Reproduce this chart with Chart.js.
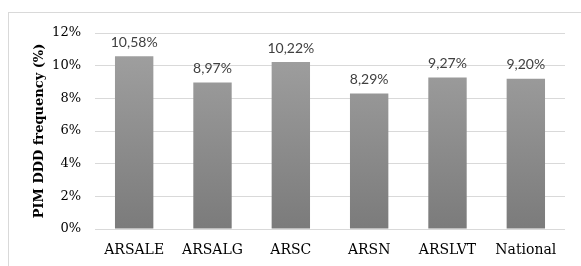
<!DOCTYPE html>
<html>
<head>
<meta charset="utf-8">
<script src="https://cdn.jsdelivr.net/npm/chart.js@4/dist/chart.umd.min.js"></script>
<style>
  html, body { margin: 0; padding: 0; background: #fff; }
  #wrap { width: 581px; height: 266px; position: relative; }
</style>
</head>
<body>
<div id="wrap"><canvas id="chart" width="581" height="266"></canvas></div>
<script>
// values (percent)
const categories = ['ARSALE', 'ARSALG', 'ARSC', 'ARSN', 'ARSLVT', 'National'];
const frequency = [10.58, 8.97, 10.22, 8.29, 9.27, 9.20];
const yTicks = [0, 2, 4, 6, 8, 10, 12];

const serif = '"DejaVu Serif", serif';

// light frame around the whole figure
const framePlugin = {
  id: 'frame',
  beforeDraw(chart) {
    const ctx = chart.ctx;
    ctx.save();
    ctx.strokeStyle = '#d9d9d9';
    ctx.lineWidth = 1;
    ctx.strokeRect(8.5, 12.5, 700, 400);
    ctx.restore();
  }
};

// value labels above the bars, comma decimals
const labelPlugin = {
  id: 'barLabels',
  afterDatasetsDraw(chart) {
    const ctx = chart.ctx;
    const meta = chart.getDatasetMeta(0);
    ctx.save();
    ctx.font = '14px Lato, sans-serif';
    ctx.fillStyle = '#404040';
    ctx.textAlign = 'center';
    ctx.textBaseline = 'bottom';
    meta.data.forEach((bar, i) => {
      const txt = frequency[i].toFixed(2).replace('.', ',') + '%';
      ctx.fillText(txt, bar.x, bar.y - 7);
    });
    ctx.restore();
  }
};

function barGradient(context) {
  const chart = context.chart;
  const area = chart.chartArea;
  if (!area) return '#8c8c8c';
  const g = chart.ctx.createLinearGradient(0, area.top, 0, area.bottom);
  g.addColorStop(0, '#a3a3a3');
  g.addColorStop(1, '#7b7b7b');
  return g;
}

new Chart(document.getElementById('chart'), {
  type: 'bar',
  data: {
    labels: categories,
    datasets: [{
      data: frequency,
      backgroundColor: barGradient,
      borderWidth: 0,
      categoryPercentage: 1,
      barPercentage: 0.49
    }]
  },
  options: {
    responsive: false,
    animation: false,
    layout: { padding: { top: 33, right: 16, bottom: 0, left: 0 } },
    plugins: {
      legend: { display: false },
      tooltip: { enabled: false }
    },
    scales: {
      x: {
        afterFit(scale) { scale.height = 37; },
        grid: { display: false, drawTicks: false },
        border: { display: false },
        ticks: {
          color: '#000',
          font: { family: serif, size: 14 },
          padding: 13
        }
      },
      y: {
        min: 0,
        max: 12,
        afterFit(scale) { scale.width = 95; },
        afterBuildTicks(scale) {
          scale.ticks = yTicks.map(v => ({ value: v }));
        },
        grid: { color: '#d9d9d9', lineWidth: 1, drawTicks: false },
        border: { display: false },
        ticks: {
          color: '#000',
          font: { family: serif, size: 13 },
          padding: 14,
          callback: v => v + '%'
        },
        title: {
          display: true,
          text: 'PIM DDD frequency (%)',
          color: '#000',
          font: { family: serif, size: 13, weight: 'bold' },
          padding: { top: 32, bottom: 0 }
        }
      }
    }
  },
  plugins: [framePlugin, labelPlugin]
});
</script>
</body>
</html>
